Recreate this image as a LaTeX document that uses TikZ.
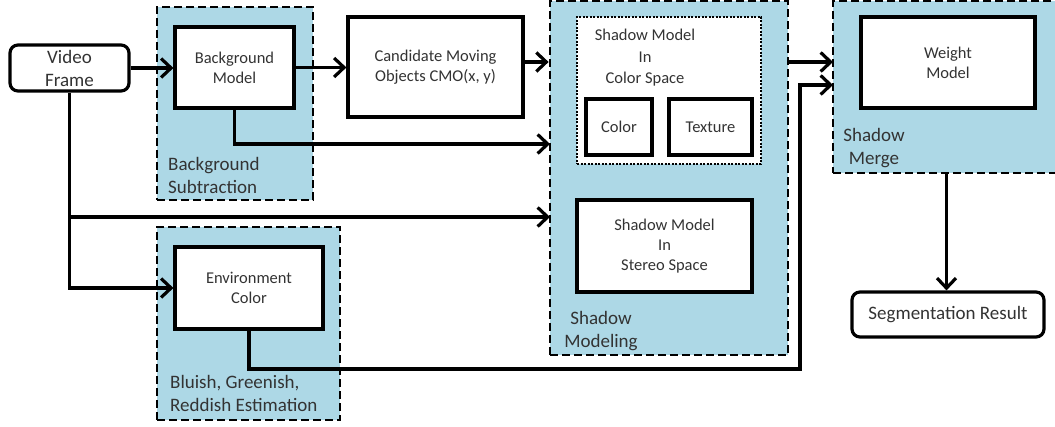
\documentclass[tikz,border=0pt]{standalone}
\usepackage{fontspec}
\setmainfont{Carlito}
\usetikzlibrary{arrows.meta}
\definecolor{panelblue}{RGB}{173,216,230}
\definecolor{txtgray}{RGB}{51,51,51}

\begin{document}
\begin{tikzpicture}[x=1pt, y=-1pt,
	box/.style={draw, line width=3.2pt, fill=white, text=txtgray, align=center, inner sep=0pt, font=\fontsize{16.5}{20}\selectfont},
	rbox/.style={box, rounded corners=8pt, font=\fontsize{19}{23}\selectfont},
	panel/.style={draw, line width=2.8pt, dash pattern=on 8pt off 4pt, fill=panelblue, inner sep=0pt},
	dotbox/.style={draw, line width=2.8pt, dash pattern=on 2pt off 1.5pt, fill=white, inner sep=0pt},
	caption/.style={text=txtgray, inner sep=0pt, font=\fontsize{19}{23}\selectfont},
	link/.style={line width=3.2pt, -{Straight Barb[length=10pt, width=19pt, line width=3.2pt]}}]
	\useasboundingbox (0,0) rectangle (1055,427);

	\node[panel, minimum width=156pt, minimum height=193pt] (bgsub)  at (235,103.5) {};
	\node[panel, minimum width=238pt, minimum height=354pt] (shmod)  at (669,178) {};
	\node[panel, minimum width=227pt, minimum height=172pt] (merge)  at (946.5,87) {};
	\node[panel, minimum width=183pt, minimum height=193pt] (bgest)  at (248.5,323.5) {};

	\node[rbox, minimum width=119pt, minimum height=46pt] (vf) at (69.5,68) {Video\\Frame};
	\node[box, minimum width=119pt, minimum height=81pt] (bgm) at (234.5,67.5) {Background\\Model};
	\node[box, minimum width=175pt, minimum height=100pt] (cmo) at (435.5,67) {Candidate Moving\\Objects CMO(x, y)};
	\node[box, minimum width=148pt, minimum height=82pt] (env) at (249,288) {Environment\\Color};

	\node[dotbox, minimum width=184pt, minimum height=147pt] (colsp) at (669,90.5) {};
	\node[text=txtgray, align=center, inner sep=0pt, font=\fontsize{16.5}{21.5}\selectfont] (colsptxt) at (645,58) {Shadow Model\\In\\Color Space};
	\node[box, minimum width=66pt, minimum height=56pt] (col) at (619,127) {Color};
	\node[box, minimum width=83pt, minimum height=56pt] (tex) at (710.5,127) {Texture};
	\node[box, minimum width=175pt, minimum height=92pt] (stereo) at (664.5,246) {Shadow Model\\In\\Stereo Space};

	\node[box, minimum width=174pt, minimum height=91pt] (wm) at (948,62.5) {Weight\\Model};
	\node[rbox, minimum width=192pt, minimum height=45pt] (seg) at (948,314.5) {Segmentation Result};

	\node[caption, anchor=north west, align=left] (bgsubtxt) at (168,157) {Background\\Subtraction};
	\node[caption, anchor=north west, align=left] (bgesttxt) at (170,375) {Bluish, Greenish,\\Reddish Estimation};
	\node[caption, anchor=north, align=center] (shmodtxt) at (601,311) {Shadow\\Modeling};
	\node[caption, anchor=north, align=center] (mergetxt) at (874,128) {Shadow\\Merge};

	\coordinate (sm1) at (550,144);
	\coordinate (sm2) at (550,217);
	\coordinate (mg1) at (833,62);
	\coordinate (mg2) at (833,85);
	\coordinate (bend) at (800,369);

	\draw[link] (vf.east) -- (vf.east -| bgm.west);
	\draw[link] (bgm.east) -- (bgm.east -| cmo.west);
	\draw[link] ([yshift=5pt]cmo.east) -- ([yshift=5pt]cmo.east -| shmod.west);
	\draw[link] (bgm.south) |- (sm1);
	\draw[link] (vf.south) |- (env.west);
	\draw[link] (vf.south |- sm2) -- (sm2);
	\draw[link] (shmod.east |- mg1) -- (mg1);
	\draw[link] (env.south) |- (bend) |- (mg2);
	\draw[link] (merge.south) -- (merge.south |- seg.north);
\end{tikzpicture}
\end{document}
